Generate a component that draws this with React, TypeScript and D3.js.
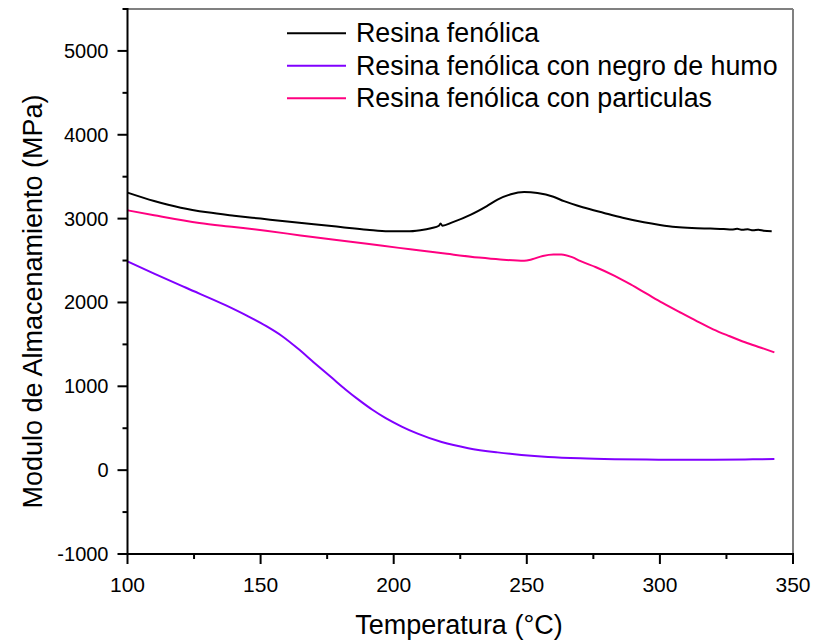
import * as d3 from "d3";

const W = 817;
const H = 642;
const M = { left: 127.5, top: 9, right: 793, bottom: 554 };

const xDomain = [100, 350];
const yDomain = [-1000, 5500];
const xMajor = [100, 150, 200, 250, 300, 350];
const xMinor = [125, 175, 225, 275, 325];
const yMajor = [-1000, 0, 1000, 2000, 3000, 4000, 5000];
const yMinor = [-500, 500, 1500, 2500, 3500, 4500, 5500];

// Resina fenólica
const resina: [number, number][] = [
  [100, 3310], [110, 3210], [120, 3130], [130, 3075], [140, 3035], [150, 3000],
  [160, 2965], [170, 2932], [180, 2900], [190, 2868], [198, 2848], [205, 2848],
  [210, 2862], [214, 2885], [217, 2915], [217.6, 2942], [218.3, 2915], [222, 2955],
  [229, 3048], [235, 3150], [239, 3226], [244, 3290], [249, 3317], [254, 3305],
  [260, 3260], [264, 3208], [271, 3135], [279, 3067], [286, 3010], [294, 2956],
  [300, 2925], [306, 2901], [312, 2888], [319, 2881], [324, 2876], [327, 2870],
  [329, 2878], [331, 2866], [333, 2872], [335, 2860], [337, 2868], [339, 2855],
  [342, 2849],
];

// Resina fenólica con negro de humo
const negroHumo: [number, number][] = [
  [100, 2490], [110, 2345], [122, 2175], [137, 1965], [145, 1840], [152, 1720],
  [158, 1600], [164, 1450], [170, 1285], [177, 1095], [182, 960], [187, 835],
  [192, 720], [197, 620], [203, 520], [209, 435], [218, 335], [228, 262],
  [239, 212], [248, 182], [258, 158], [270, 141], [283, 131], [295, 126],
  [308, 124], [320, 125], [332, 128], [343, 133],
];

// Resina fenólica con particulas
const particulas: [number, number][] = [
  [100, 3099], [110, 3040], [127, 2948], [140, 2900], [152, 2855], [165, 2800],
  [177, 2750], [190, 2700], [202, 2651], [210, 2620], [220, 2580], [232, 2535],
  [240, 2512], [249, 2497], [252, 2515], [256, 2555], [260, 2573], [263, 2572],
  [267, 2540], [270, 2495], [276, 2420], [283, 2317], [289, 2215], [295, 2105],
  [301, 1995], [308, 1875], [314, 1775], [320, 1680], [326, 1600], [332, 1525],
  [338, 1460], [343, 1405],
];

const series = [
  { name: "Resina fenólica", color: "#000000", data: resina },
  { name: "Resina fenólica con negro de humo", color: "#8000ff", data: negroHumo },
  { name: "Resina fenólica con particulas", color: "#ff0080", data: particulas },
];

const FONT = "'Liberation Sans', Arial, sans-serif";

export default function App() {
  const x = d3.scaleLinear().domain(xDomain).range([M.left, M.right]);
  const y = d3.scaleLinear().domain(yDomain).range([M.bottom, M.top]);
  const line = d3
    .line<[number, number]>()
    .x((d) => x(d[0]))
    .y((d) => y(d[1]))
    .curve(d3.curveMonotoneX);

  return (
    <div style={{ position: "absolute", left: 0, top: 0 }}>
      <svg width={W} height={H} style={{ display: "block", background: "#fff" }} fontFamily={FONT}>
        {/* mirror frame */}
        <line x1={M.left} x2={M.right} y1={M.top} y2={M.top} stroke="#808080" strokeWidth={2} />
        <line x1={M.right} x2={M.right} y1={M.top} y2={M.bottom} stroke="#808080" strokeWidth={2} />

        {/* data */}
        <g fill="none" strokeWidth={2}>
          {series.map((s) => (
            <path key={s.name} d={line(s.data) || ""} stroke={s.color} />
          ))}
        </g>

        {/* y axis */}
        <line x1={M.left} x2={M.left} y1={M.top - 1} y2={M.bottom + 1} stroke="#000" strokeWidth={2} />
        {yMajor.map((v) => (
          <g key={"ym" + v}>
            <line x1={M.left - 10} x2={M.left} y1={y(v)} y2={y(v)} stroke="#000" strokeWidth={2} />
            <text x={M.left - 19} y={y(v) + 7} textAnchor="end" fontSize={20}>
              {v}
            </text>
          </g>
        ))}
        {yMinor.map((v) => (
          <line key={"yn" + v} x1={M.left - 5} x2={M.left} y1={y(v)} y2={y(v)} stroke="#000" strokeWidth={2} />
        ))}

        {/* x axis */}
        <line x1={M.left - 1} x2={M.right + 1} y1={M.bottom} y2={M.bottom} stroke="#000" strokeWidth={2} />
        {xMajor.map((v) => (
          <g key={"xm" + v}>
            <line x1={x(v)} x2={x(v)} y1={M.bottom} y2={M.bottom + 10} stroke="#000" strokeWidth={2} />
            <text x={x(v)} y={592} textAnchor="middle" fontSize={21}>
              {v}
            </text>
          </g>
        ))}
        {xMinor.map((v) => (
          <line key={"xn" + v} x1={x(v)} x2={x(v)} y1={M.bottom} y2={M.bottom + 5} stroke="#000" strokeWidth={2} />
        ))}

        {/* axis titles */}
        <text x={459} y={634} textAnchor="middle" fontSize={27}>
          Temperatura (°C)
        </text>
        <text transform="translate(42,301.5) rotate(-90)" textAnchor="middle" fontSize={27}>
          Modulo de Almacenamiento (MPa)
        </text>

        {/* legend */}
        {series.map((s, i) => (
          <g key={"lg" + s.name} transform={`translate(0, ${33.3 + i * 32.5})`}>
            <line x1={287} x2={346} y1={0} y2={0} stroke={s.color} strokeWidth={2} />
            <text x={356} y={8.7} fontSize={26.8}>
              {s.name}
            </text>
          </g>
        ))}
      </svg>
    </div>
  );
}
